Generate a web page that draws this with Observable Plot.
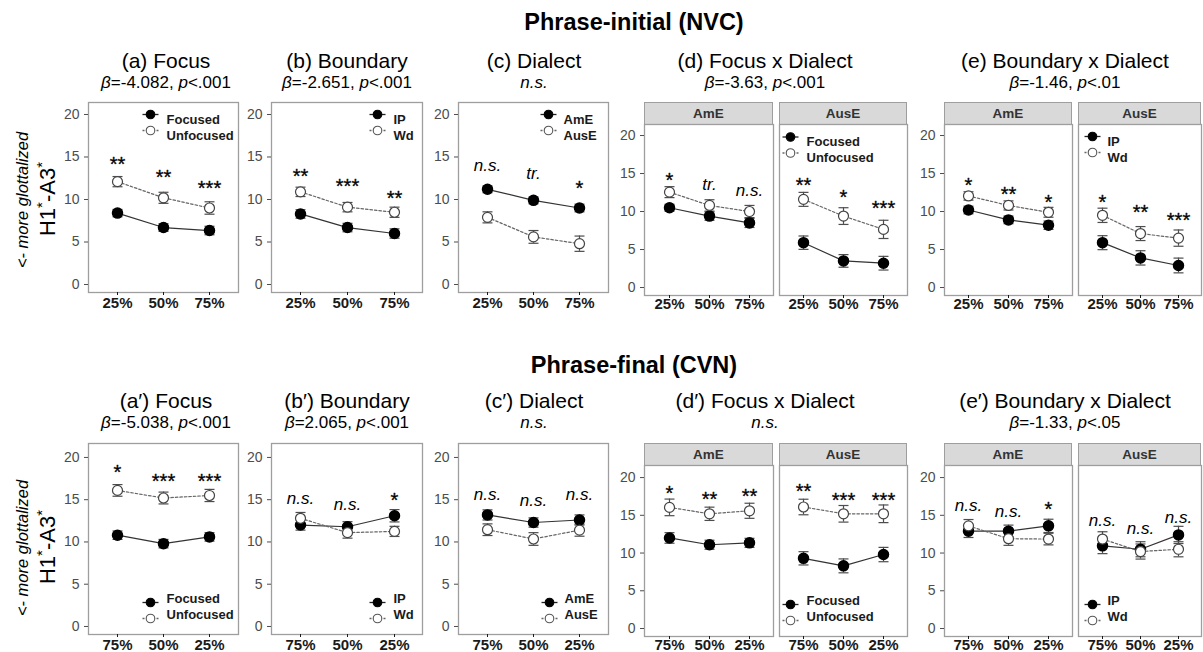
<!DOCTYPE html>
<html><head><meta charset="utf-8">
<script src="https://cdn.jsdelivr.net/npm/d3@7"></script>
<script src="https://cdn.jsdelivr.net/npm/@observablehq/plot@0.6"></script>
<style>
body{margin:0;background:#fff;}
#root{position:relative;width:1203px;height:652px;overflow:hidden;font-family:"Liberation Sans",Arial,Helvetica,sans-serif;background:#fff;}
.t{position:absolute;white-space:nowrap;transform:translate(-50%,-50%);color:#000;line-height:1.15;}
.strip{position:absolute;box-sizing:border-box;background:#d9d9d9;border:1.3px solid #9e9e9e;font-weight:bold;font-size:13.5px;color:#333;display:flex;align-items:center;justify-content:center;}
</style></head><body><div id="root"></div>
<script>
// ---------------- DATA ----------------
const initTimes = ["25%", "50%", "75%"];
const finalTimes = ["75%", "50%", "25%"];
const focusNames = ["Focused", "Unfocused"];
const boundaryNames = ["IP", "Wd"];
const dialectNames = ["AmE", "AusE"];
const yTicks = [0, 5, 10, 15, 20];

const rowTitles = ["Phrase-initial (NVC)", "Phrase-final (CVN)"];
const panelTitles1 = ["(a) Focus", "(b) Boundary", "(c) Dialect", "(d) Focus x Dialect", "(e) Boundary x Dialect"];
const panelTitles2 = ["(a\u2032) Focus", "(b\u2032) Boundary", "(c\u2032) Dialect", "(d\u2032) Focus x Dialect", "(e\u2032) Boundary x Dialect"];
const panelBeta1 = ["-4.082", "-2.651", null, "-3.63", "-1.46"];
const panelP1 = ["<.001", "<.001", null, "<.001", "<.01"];
const panelBeta2 = ["-5.038", "2.065", null, null, "-1.33"];
const panelP2 = ["<.001", "<.001", null, null, "<.05"];

// Phrase-initial (means, standard errors, significance labels and label heights)
const aFoc = [8.4, 6.7, 6.35], aFocSE = [0.43, 0.45, 0.5];
const aUnf = [12.1, 10.2, 9.0], aUnfSE = [0.6, 0.65, 0.73];
const aSig = ["**", "**", "***"], aSigY = [14.7, 13.2, 11.9];

const bIP = [8.3, 6.7, 6.0], bIPSE = [0.5, 0.5, 0.55];
const bWd = [10.9, 9.1, 8.5], bWdSE = [0.55, 0.55, 0.6];
const bSig = ["**", "***", "**"], bSigY = [13.3, 12.1, 10.7];

const cAmE = [11.2, 9.9, 9.0], cAmESE = [0.4, 0.4, 0.45];
const cAusE = [7.9, 5.6, 4.8], cAusESE = [0.65, 0.75, 0.9];
const cSig = ["n.s.", "tr.", "*"], cSigY = [14.0, 13.1, 11.9];

const dAmEFoc = [10.5, 9.4, 8.5], dAmEFocSE = [0.45, 0.55, 0.6];
const dAmEUnf = [12.55, 10.8, 10.0], dAmEUnfSE = [0.72, 0.75, 0.8];
const dAmESig = ["*", "tr.", "n.s."], dAmESigY = [14.7, 13.5, 12.8];
const dAusEFoc = [5.9, 3.5, 3.2], dAusEFocSE = [0.88, 0.83, 0.9];
const dAusEUnf = [11.6, 9.4, 7.65], dAusEUnfSE = [0.92, 1.1, 1.2];
const dAusESig = ["**", "*", "***"], dAusESigY = [14.1, 12.5, 11.0];

const eAmEIP = [10.2, 8.9, 8.2], eAmEIPSE = [0.5, 0.5, 0.55];
const eAmEWd = [12.05, 10.8, 9.9], eAmEWdSE = [0.55, 0.6, 0.65];
const eAmESig = ["*", "**", "*"], eAmESigY = [14.1, 12.9, 11.8];
const eAusEIP = [5.9, 3.9, 2.9], eAusEIPSE = [0.92, 0.94, 0.97];
const eAusEWd = [9.5, 7.1, 6.5], eAusEWdSE = [0.94, 0.92, 1.07];
const eAusESig = ["*", "**", "***"], eAusESigY = [11.8, 10.5, 9.5];

// Phrase-final
const a2Foc = [10.8, 9.8, 10.6], a2FocSE = [0.5, 0.5, 0.5];
const a2Unf = [16.1, 15.2, 15.5], a2UnfSE = [0.69, 0.7, 0.72];
const a2Sig = ["*", "***", "***"], a2SigY = [18.8, 17.7, 17.7];

const b2IP = [12.0, 11.8, 13.1], b2IPSE = [0.6, 0.6, 0.73];
const b2Wd = [12.8, 11.1, 11.25], b2WdSE = [0.69, 0.65, 0.6];
const b2Sig = ["n.s.", "n.s.", "*"], b2SigY = [15.1, 14.4, 15.5];

const c2AmE = [13.2, 12.3, 12.6], c2AmESE = [0.6, 0.55, 0.6];
const c2AusE = [11.45, 10.35, 11.4], c2AusESE = [0.69, 0.75, 0.72];
const c2Sig = ["n.s.", "n.s.", "n.s."], c2SigY = [15.6, 14.9, 15.6];

const d2AmEFoc = [12.0, 11.1, 11.35], d2AmEFocSE = [0.7, 0.6, 0.6];
const d2AmEUnf = [16.05, 15.2, 15.6], d2AmEUnfSE = [1.1, 0.88, 1.0];
const d2AmESig = ["*", "**", "**"], d2AmESigY = [18.6, 17.8, 18.15];
const d2AusEFoc = [9.3, 8.3, 9.8], d2AusEFocSE = [0.88, 0.92, 0.95];
const d2AusEUnf = [16.1, 15.2, 15.2], d2AusEUnfSE = [1.03, 1.1, 1.17];
const d2AusESig = ["**", "***", "***"], d2AusESigY = [18.8, 17.6, 17.6];

const e2AmEIP = [12.9, 12.9, 13.6], e2AmEIPSE = [0.84, 0.8, 0.88];
const e2AmEWd = [13.6, 11.9, 11.85], e2AmEWdSE = [0.84, 0.88, 0.77];
const e2AmESig = ["n.s.", "n.s.", "*"], e2AmESigY = [16.3, 15.5, 16.4];
const e2AusEIP = [10.95, 10.5, 12.4], e2AusEIPSE = [1.03, 1.0, 1.14];
const e2AusEWd = [11.85, 10.2, 10.5], e2AusEWdSE = [0.97, 1.0, 1.0];
const e2AusESig = ["n.s.", "n.s.", "n.s."], e2AusESigY = [14.3, 13.3, 14.75];

// ---------------- LAYOUT ----------------
const FONT = '"Liberation Sans", Arial, Helvetica, sans-serif';
const root = document.getElementById("root");

const capSym = {draw(ctx, size) { const r = Math.sqrt(size / Math.PI); ctx.moveTo(-r, 0); ctx.lineTo(r, 0); }};

function addText(html, x, y, style) {
  const d = document.createElement("div");
  d.className = "t";
  d.innerHTML = html;
  d.style.left = x + "px"; d.style.top = y + "px";
  Object.assign(d.style, style || {});
  root.appendChild(d);
  return d;
}
function addStrip(label, L, R, T, B) {
  const d = document.createElement("div");
  d.className = "strip";
  d.textContent = label;
  Object.assign(d.style, {left: L + "px", top: T + "px", width: (R - L) + "px", height: (B - T + 1) + "px"});
  root.appendChild(d);
}

function legendMarks(names, lg) {
  if (!lg) return [];
  const out = [];
  names.forEach((name, i) => {
    const dy = lg.dy[i];
    const base = {frameAnchor: lg.anchor, dy};
    const lineOpts = {...base, dx: lg.gx, symbol: capSym, r: 8, stroke: i === 0 ? "#222" : "#666", strokeWidth: 1.3, fill: "none"};
    if (i === 1) lineOpts.strokeDasharray = "2,1.5";
    out.push(Plot.dot([name], lineOpts));
    out.push(Plot.dot([name], {...base, dx: lg.gx, r: 4.3,
      fill: i === 0 ? "#000" : "#fff", stroke: i === 0 ? "#000" : "#555", strokeWidth: 1.1}));
    out.push(Plot.text([name], {...base, dx: lg.tx, text: d => d, textAnchor: "start",
      fontWeight: "bold", fontSize: 13, fill: "#1a1a1a"}));
  });
  return out;
}

function makePanel(cfg) {
  const {box, yDomain, xs, names, series, sig, sigY, showY, legend, xPad} = cfg;
  const [L, R, T, B] = box;
  const ml = 34, mr = 4, mt = 4, mb = 28;
  const rows = [];
  series.forEach((s, gi) => s.mean.forEach((m, i) =>
    rows.push({t: xs[i], m, lo: m - s.se[i], hi: m + s.se[i], filled: gi === 0})));
  const ann = sig.map((s, i) => ({t: xs[i], v: sigY[i], s}));
  const stars = ann.filter(d => d.s.startsWith("*"));
  const words = ann.filter(d => !d.s.startsWith("*"));
  const filled = rows.filter(d => d.filled), open = rows.filter(d => !d.filled);
  const marks = [
    Plot.frame({stroke: "#9e9e9e", strokeWidth: 1.3}),
    Plot.axisX({tickSize: 3, tickPadding: xPad, fontSize: 15, fontWeight: "bold", color: "#1a1a1a", label: null}),
    showY ? Plot.axisY({ticks: yTicks, tickSize: 4, tickPadding: 5, fontSize: 14, color: "#4d4d4d", label: null}) : null,
    Plot.ruleX(rows, {x: "t", y1: "lo", y2: "hi", stroke: "#4d4d4d", strokeWidth: 1.2}),
    Plot.dot(rows, {x: "t", y: "lo", symbol: capSym, r: 5, stroke: "#4d4d4d", strokeWidth: 1.2, fill: "none"}),
    Plot.dot(rows, {x: "t", y: "hi", symbol: capSym, r: 5, stroke: "#4d4d4d", strokeWidth: 1.2, fill: "none"}),
    Plot.line(filled, {x: "t", y: "m", stroke: "#333", strokeWidth: 1.2}),
    Plot.line(open, {x: "t", y: "m", stroke: "#666", strokeWidth: 1.2, strokeDasharray: "2.5,2"}),
    Plot.dot(filled, {x: "t", y: "m", r: 5, fill: "#000", stroke: "#000"}),
    Plot.dot(open, {x: "t", y: "m", r: 5, fill: "#fff", stroke: "#444", strokeWidth: 1.2}),
    Plot.text(stars, {x: "t", y: "v", text: "s", fontSize: 20, dy: 5, fill: "#000", stroke: "#000", strokeWidth: 0.3}),
    Plot.text(words, {x: "t", y: "v", text: "s", fontSize: 17, fontStyle: "italic", fill: "#000"}),
    ...legendMarks(names, legend)
  ];
  const plot = Plot.plot({
    width: R - L + ml + mr, height: B - T + mt + mb,
    marginLeft: ml, marginRight: mr, marginTop: mt, marginBottom: mb,
    style: {fontFamily: FONT, overflow: "visible", background: "transparent"},
    x: {type: "point", domain: xs, padding: 0.6, label: null, axis: null},
    y: {domain: yDomain, label: null, axis: null},
    marks
  });
  Object.assign(plot.style, {position: "absolute", left: (L - ml) + "px", top: (T - mt) + "px"});
  root.appendChild(plot);
}

const S = (mean, se) => ({mean, se});
const cols = [[88, 238], [271, 422], [458, 608]];
const facetCols = [[[644, 773], [779, 907]], [[944, 1072], [1078, 1201]]];
const rowGeo = [
  {simple: [102, 292], simpleY: [-0.94, 21.41], strip: [102, 124], facet: [124, 295], facetY: [-1.05, 21.45],
   titleY: 23, ptY: 61, psY: 83, ylabY: 200},
  {simple: [443, 634], simpleY: [-0.95, 21.65], strip: [443, 465], facet: [465, 636], facetY: [-1.06, 21.6],
   titleY: 366, ptY: 401, psY: 423, ylabY: 548}
];
const titleX = [166, 347, 534, 765, 1065];

const topLg = (gx, tx) => ({anchor: "top-left", gx, tx, dy: [12, 28]});
const botLg = (gx, tx) => ({anchor: "bottom-left", gx, tx, dy: [-32, -16]});

const row1 = [
  {col: 0, xs: initTimes, names: focusNames, series: [S(aFoc, aFocSE), S(aUnf, aUnfSE)], sig: aSig, sigY: aSigY, legend: topLg(62, 78)},
  {col: 1, xs: initTimes, names: boundaryNames, series: [S(bIP, bIPSE), S(bWd, bWdSE)], sig: bSig, sigY: bSigY, legend: topLg(106, 122)},
  {col: 2, xs: initTimes, names: dialectNames, series: [S(cAmE, cAmESE), S(cAusE, cAusESE)], sig: cSig, sigY: cSigY, legend: topLg(90, 105)}
];
const row1f = [
  [{strip: "AmE", xs: initTimes, names: focusNames, series: [S(dAmEFoc, dAmEFocSE), S(dAmEUnf, dAmEUnfSE)], sig: dAmESig, sigY: dAmESigY},
   {strip: "AusE", xs: initTimes, names: focusNames, series: [S(dAusEFoc, dAusEFocSE), S(dAusEUnf, dAusEUnfSE)], sig: dAusESig, sigY: dAusESigY, legend: {anchor: "top-left", gx: 11, tx: 27, dy: [12.5, 28.5]}}],
  [{strip: "AmE", xs: initTimes, names: boundaryNames, series: [S(eAmEIP, eAmEIPSE), S(eAmEWd, eAmEWdSE)], sig: eAmESig, sigY: eAmESigY},
   {strip: "AusE", xs: initTimes, names: boundaryNames, series: [S(eAusEIP, eAusEIPSE), S(eAusEWd, eAusEWdSE)], sig: eAusESig, sigY: eAusESigY, legend: {anchor: "top-left", gx: 14, tx: 29, dy: [12, 28]}}]
];
const row2 = [
  {col: 0, xs: finalTimes, names: focusNames, series: [S(a2Foc, a2FocSE), S(a2Unf, a2UnfSE)], sig: a2Sig, sigY: a2SigY, legend: botLg(62, 78)},
  {col: 1, xs: finalTimes, names: boundaryNames, series: [S(b2IP, b2IPSE), S(b2Wd, b2WdSE)], sig: b2Sig, sigY: b2SigY, legend: botLg(106, 122)},
  {col: 2, xs: finalTimes, names: dialectNames, series: [S(c2AmE, c2AmESE), S(c2AusE, c2AusESE)], sig: c2Sig, sigY: c2SigY, legend: botLg(91, 106)}
];
const row2f = [
  [{strip: "AmE", xs: finalTimes, names: focusNames, series: [S(d2AmEFoc, d2AmEFocSE), S(d2AmEUnf, d2AmEUnfSE)], sig: d2AmESig, sigY: d2AmESigY},
   {strip: "AusE", xs: finalTimes, names: focusNames, series: [S(d2AusEFoc, d2AusEFocSE), S(d2AusEUnf, d2AusEUnfSE)], sig: d2AusESig, sigY: d2AusESigY, legend: botLg(11, 27)}],
  [{strip: "AmE", xs: finalTimes, names: boundaryNames, series: [S(e2AmEIP, e2AmEIPSE), S(e2AmEWd, e2AmEWdSE)], sig: e2AmESig, sigY: e2AmESigY},
   {strip: "AusE", xs: finalTimes, names: boundaryNames, series: [S(e2AusEIP, e2AusEIPSE), S(e2AusEWd, e2AusEWdSE)], sig: e2AusESig, sigY: e2AusESigY, legend: botLg(14, 29)}]
];

[[row1, row1f, panelTitles1, panelBeta1, panelP1], [row2, row2f, panelTitles2, panelBeta2, panelP2]].forEach(([simple, faceted, titles, betas, ps], r) => {
  const g = rowGeo[r];
  addText(rowTitles[r], 634, g.titleY, {fontWeight: "bold", fontSize: "23.5px"});
  titles.forEach((t, i) => {
    addText(t, titleX[i], g.ptY, {fontSize: "21px"});
    const sub = betas[i] == null ? "<i>n.s.</i>" : `<i>\u03b2</i>=${betas[i]}, <i>p</i>${ps[i].replace("<", "&lt;")}`;
    addText(sub, titleX[i], g.psY, {fontSize: "17px"});
  });
  addText("&lt;- more glottalized", 22, g.ylabY, {fontSize: "16.5px", fontStyle: "italic", transform: "translate(-50%,-50%) rotate(-90deg)"});
  addText('H1<span style="font-size:15px;vertical-align:8px">*</span>-A3<span style="font-size:15px;vertical-align:8px">*</span>', 47, g.ylabY - 1,
    {fontSize: "22px", transform: "translate(-50%,-50%) rotate(-90deg)"});
  simple.forEach(p => {
    const [L, R] = cols[p.col];
    makePanel({...p, box: [L, R, g.simple[0], g.simple[1]], yDomain: g.simpleY, showY: true, xPad: 2});
  });
  faceted.forEach((pair, k) => {
    pair.forEach((p, j) => {
      const [L, R] = facetCols[k][j];
      addStrip(p.strip, L, R, g.strip[0], g.strip[1]);
      makePanel({...p, box: [L, R, g.facet[0], g.facet[1]], yDomain: g.facetY, showY: j === 0, xPad: 0});
    });
  });
});
</script></body></html>
